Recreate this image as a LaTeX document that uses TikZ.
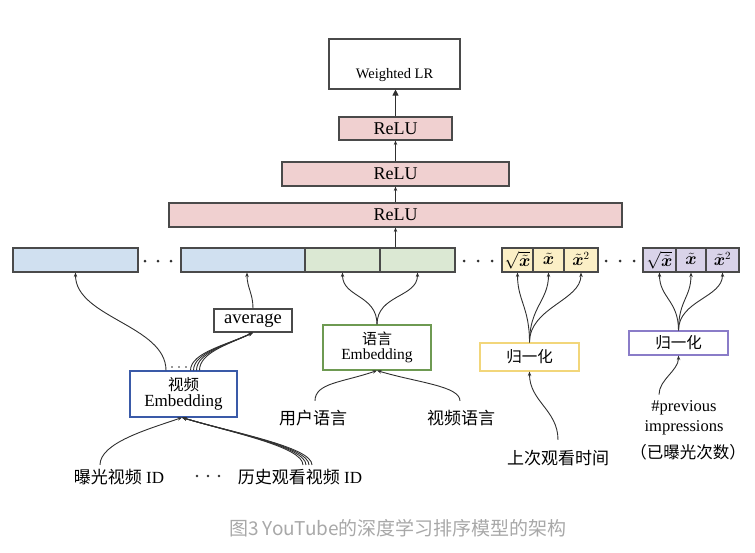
\documentclass[tikz,border=0pt]{standalone}
\usepackage{fontspec}
\usepackage{bm}
\setmainfont{Liberation Serif}
\newfontfamily\cjk{Noto Sans CJK SC}
\usetikzlibrary{arrows.meta}
\definecolor{cblue}{HTML}{D0E0F0}
\definecolor{cgreen}{HTML}{DBE8D3}
\definecolor{cyellow}{HTML}{FBEFC6}
\definecolor{cpurple}{HTML}{D9D3E9}
\definecolor{cpink}{HTML}{F0D0D0}
\definecolor{cellborder}{HTML}{4A4A4A}
\definecolor{bblue}{HTML}{3A5AA8}
\definecolor{bgreen}{HTML}{6E9A52}
\definecolor{byellow}{HTML}{F2D67A}
\definecolor{bpurple}{HTML}{8A7CC8}
\definecolor{linec}{HTML}{303030}
\definecolor{capgray}{HTML}{A8A8A8}
\tikzset{
  cell/.style={draw=cellborder, line width=1.1pt, minimum height=24pt, inner sep=0pt},
  relubox/.style={cell, fill=cpink, font=\fontsize{18}{18}\selectfont},
  plainbox/.style={draw=cellborder, line width=1.1pt, inner sep=0pt},
  embbox/.style={line width=1.1pt, fill=white, inner sep=0pt, align=center},
  txt/.style={inner sep=0pt, font=\fontsize{17}{20}\selectfont},
  conn/.style={draw=linec, line width=0.9pt, -{Stealth[length=4.5pt,width=3.5pt]}},
  mathlbl/.style={inner sep=0pt, font=\fontsize{16}{16}\selectfont},
}
\begin{document}
\begin{tikzpicture}[x=1pt, y=-1pt]
\useasboundingbox (0,0) rectangle (755,552);

% top
\node[plainbox, minimum width=131pt, minimum height=50pt] (wlr) at (394.5,64) {};
\node[inner sep=0pt, font=\fontsize{14.5}{15}\selectfont] (wlrt) at (394.5,75) {Weighted LR};
\node[relubox, minimum width=113pt, minimum height=23pt] (r1) at (395.5,128.5) {ReLU};
\node[relubox, minimum width=227pt] (r2) at (395.5,174) {ReLU};
\node[relubox, minimum width=453pt] (r3) at (395.5,215) {ReLU};

% feature row
\node[cell, fill=cblue, minimum width=125pt] (b1) at (75.5,260) {};
\node[cell, fill=cblue, minimum width=124pt] (b2) at (243,260) {};
\node[cell, fill=cgreen, minimum width=75pt] (g1) at (342.5,260) {};
\node[cell, fill=cgreen, minimum width=75pt] (g2) at (417.5,260) {};
\node[cell, fill=cyellow, minimum width=31pt] (y1) at (517.5,260) {};
\node[cell, fill=cyellow, minimum width=31pt] (y2) at (548.5,260) {};
\node[cell, fill=cyellow, minimum width=34pt] (y3) at (581,260) {};
\node[cell, fill=cpurple, minimum width=33pt] (p1) at (659.5,260) {};
\node[cell, fill=cpurple, minimum width=30pt] (p2) at (691,260) {};
\node[cell, fill=cpurple, minimum width=33pt] (p3) at (722.5,260) {};
\node[mathlbl] (y1t) at (517.5,260) {$\sqrt{\tilde{\bm{x}}}$};
\node[mathlbl] (y2t) at (548.5,259) {$\tilde{\bm{x}}$};
\node[mathlbl] (y3t) at (581,259) {$\tilde{\bm{x}}^{2}$};
\node[mathlbl] (p1t) at (659.5,260) {$\sqrt{\tilde{\bm{x}}}$};
\node[mathlbl] (p2t) at (691,259) {$\tilde{\bm{x}}$};
\node[mathlbl] (p3t) at (722.5,259) {$\tilde{\bm{x}}^{2}$};

% dots in row
\foreach \x in {145,158,171, 464,478,492, 606,620,634}
  \fill[linec] (\x,261) circle (1.5pt);

% middle boxes
\node[plainbox, minimum width=78pt, minimum height=23pt, font=\fontsize{18.5}{19}\selectfont] (avg) at (253,320.5) {average};
\node[embbox, draw=bblue, minimum width=107pt, minimum height=46pt] (ve) at (183.5,394)
  {{\cjk\fontsize{15.5}{16}\selectfont 视频}\\[2pt]{\fontsize{17}{17}\selectfont Embedding}};
\node[embbox, draw=bgreen, minimum width=108pt, minimum height=45pt] (le) at (377,347.5)
  {{\cjk\fontsize{15}{16}\selectfont 语言}\\[3pt]{\fontsize{15.5}{16}\selectfont Embedding}};
\node[embbox, draw=byellow, minimum width=99pt, minimum height=28pt, font=\cjk\fontsize{15.5}{16}\selectfont] (yn) at (529.5,357) {\raisebox{-3pt}{归一化}};
\node[embbox, draw=bpurple, minimum width=99pt, minimum height=24pt, font=\cjk\fontsize{15.5}{16}\selectfont] (pn) at (678.5,343) {归一化};

\foreach \x in {172,179,186}
  \fill[linec] (\x,367) circle (0.8pt);

% bottom texts
\node[txt] (t1) at (119,477) {{\cjk 曝光视频} ID};
\node[txt] (t2) at (300,477) {{\cjk 历史观看视频} ID};
\foreach \x in {197,208,219}
  \fill[linec] (\x,476) circle (1.3pt);
\node[txt, font=\cjk\fontsize{17}{20}\selectfont] (ul) at (313,418) {用户语言};
\node[txt, font=\cjk\fontsize{17}{20}\selectfont] (vl) at (461,418) {视频语言};
\node[txt, font=\cjk\fontsize{17}{20}\selectfont] (lt) at (558,458) {上次观看时间};
\node[txt, align=center, font=\fontsize{16.5}{20}\selectfont] (prev) at (684,418) {\#previous\\impressions};
\node[txt, font=\cjk\fontsize{16.5}{20}\selectfont] (prevcn) at (688,452) {（已曝光次数）};

% caption
\node[inner sep=0pt, text=capgray, font=\cjk\fontsize{19}{20}\selectfont] (cap) at (398,528) {图3 YouTube的深度学习排序模型的架构};

% vertical stack arrows
\draw[conn] (r3.south |- g2.north) -- (r3.south);
\draw[conn] (r3.north) -- (r3.north |- r2.south);
\draw[conn] (r2.north) -- (r2.north |- r1.south);
\draw[draw=linec, line width=0.9pt, -{Triangle[length=6pt,width=6pt]}] (r1.north) -- (r1.north |- wlr.south);

% video embedding
\draw[conn] ([xshift=-17.5pt]ve.north) .. controls +(0,-45) and +(0,45) .. (b1.south);
\foreach \s in {7,10,13,16}
  \draw[conn] ([xshift=\s pt]ve.north) .. controls +(0,-18) and +(-25,12) .. (avg.south);
\draw[conn] (avg.north) .. controls +(0,-15) and +(0,15) .. ([xshift=4pt]b2.south);
\draw[conn] ([xshift=-19pt,yshift=4pt]t1.north) .. controls +(0,-22) and +(-35,12) .. ([xshift=-1.5pt]ve.south);
\foreach \s in {3,6,9,12}
  \draw[conn] ([xshift=\s pt,yshift=4pt]t2.north) .. controls +(0,-18) and +(50,15) .. ([xshift=-1.5pt]ve.south);

% language embedding
\draw[conn] (le.north) .. controls +(0,-30) and +(0,25) .. (g1.south);
\draw[conn] (le.north) .. controls +(0,-30) and +(0,25) .. (g2.south);
\draw[conn] ([xshift=2pt,yshift=9pt]ul.north) .. controls +(0,-18) and +(-35,12) .. (le.south);
\draw[conn] ([xshift=-1pt,yshift=9pt]vl.north) .. controls +(0,-15) and +(40,12) .. (le.south);

% yellow normalization
\foreach \c in {y1,y2,y3}
  \draw[conn] (yn.north) .. controls +(0,-35) and +(0,28) .. (\c.south);
\draw[conn] ([yshift=10pt]lt.north) .. controls +(0,-30) and +(0,30) .. (yn.south);

% purple normalization
\foreach \c in {p1,p2,p3}
  \draw[conn] (pn.north) .. controls +(0,-30) and +(0,25) .. (\c.south);
\draw[conn] ([xshift=-25pt,yshift=6pt]prev.north) .. controls +(0,-15) and +(0,15) .. (pn.south);
\end{tikzpicture}
\end{document}
